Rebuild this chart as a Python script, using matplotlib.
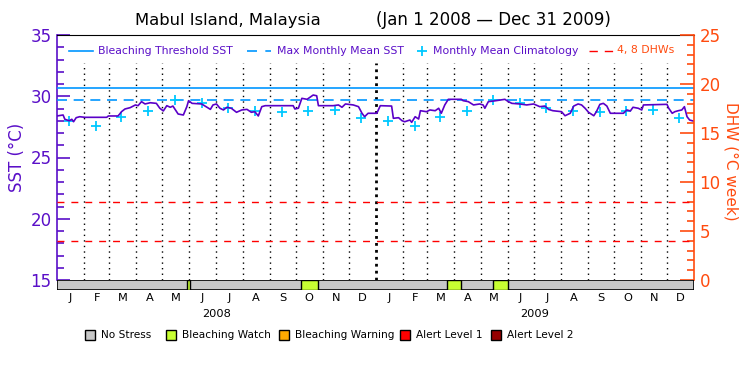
import numpy as np
import matplotlib
matplotlib.use('Agg')
import matplotlib.pyplot as plt
from matplotlib.patches import Rectangle
from matplotlib.lines import Line2D
import matplotlib.transforms as mtransforms

# ---------------- data ----------------
start_date = np.datetime64('2008-01-01')
end_date = np.datetime64('2010-01-01')

# SST (days since 2008-01-01, degC)
sst_day = [0, 7, 9, 14, 17, 19, 22, 26, 32, 57, 59, 70, 72, 74, 78, 84, 90, 93, 97, 101,
           107, 114, 118, 122, 126, 130, 133, 139, 145, 149, 151, 155, 166, 176, 179, 183,
           187, 191, 195, 200, 206, 212, 218, 223, 227, 231, 235, 239, 271, 273, 277, 281,
           287, 294, 298, 300, 317, 323, 327, 331, 340, 346, 350, 353, 357, 367, 371, 384,
           386, 392, 396, 399, 405, 407, 411, 415, 417, 424, 428, 434, 438, 441, 445, 449,
           464, 466, 472, 478, 485, 489, 491, 495, 501, 508, 514, 518, 522, 531, 539, 547,
           554, 560, 564, 569, 579, 583, 589, 593, 598, 602, 606, 610, 616, 619, 623, 627,
           631, 635, 650, 654, 658, 661, 667, 671, 673, 700, 702, 706, 709, 713, 717, 720,
           723, 726, 730]
sst_val = [28.39, 28.47, 28.12, 28.00, 28.12, 27.92, 28.25, 28.33, 28.28, 28.28, 28.39, 28.39,
           28.55, 28.74, 28.96, 29.07, 29.29, 29.23, 29.56, 29.37, 29.47, 29.42, 29.02, 28.80,
           29.23, 29.10, 29.20, 28.55, 28.47, 29.15, 29.64, 29.42, 29.37, 28.93, 29.29, 29.37,
           29.02, 28.88, 29.10, 29.02, 28.69, 28.88, 28.93, 28.69, 28.74, 28.39, 29.15, 29.23,
           29.23, 28.96, 29.02, 29.83, 29.75, 30.10, 30.04, 29.23, 29.23, 29.29, 29.10, 29.37,
           29.29, 29.15, 28.61, 28.33, 28.61, 28.61, 29.23, 29.20, 28.20, 28.25, 28.00, 27.92,
           28.06, 27.87, 28.33, 28.14, 28.82, 28.74, 28.88, 28.82, 29.02, 28.61, 29.29, 29.75,
           29.75, 29.64, 29.56, 29.29, 29.37, 29.29, 29.02, 29.56, 29.61, 29.69, 29.75, 29.56,
           29.42, 29.37, 29.29, 29.37, 29.15, 29.20, 28.93, 28.82, 28.74, 28.41, 28.61, 29.20,
           29.37, 29.29, 29.02, 28.69, 28.41, 28.74, 29.34, 29.42, 29.20, 28.61, 28.61, 28.88,
           28.80, 29.10, 29.02, 28.88, 29.29, 29.34, 29.02, 28.61, 28.74, 28.82, 28.88, 29.15,
           28.33, 28.06, 27.98]

# Monthly mean climatology (Jan..Dec)
clim_val = [28.00, 27.60, 28.33, 28.82, 29.69, 29.42, 29.04, 28.82, 28.68, 28.78, 28.85, 28.25]
mmm = 29.69
bleach_threshold = 30.69
dhw_levels = [4, 8]

stress_labels = ['No Stress', 'Bleaching Watch', 'Bleaching Warning', 'Alert Level 1', 'Alert Level 2']
stress_colors = ['#c8c8c8', '#c8ff32', '#ffaa00', '#ff0000', '#960000']
watch_start = ['2008-05-29', '2008-10-07', '2009-03-23', '2009-05-15']
watch_end = ['2008-06-02', '2008-10-27', '2009-04-09', '2009-06-01']

month_labels = ['J', 'F', 'M', 'A', 'M', 'J', 'J', 'A', 'S', 'O', 'N', 'D']
years = [2008, 2009]

# ---------------- styling ----------------
W, H = 750, 375
PURPLE = '#5a0fc8'
SSTC = '#5a00c8'
BLUE = '#0096ff'
CYAN = '#00c8ff'
RED = '#ff0000'
ORANGE = '#ff4b0f'
LEGFS = 7.8


def fx(px):
    return px / W


def fy(py):
    return 1 - py / H


def days(d):
    return float((np.datetime64(d) - start_date) / np.timedelta64(1, 'D'))


ndays = days(end_date)

fig = plt.figure(figsize=(7.5, 3.75), dpi=100)
fig.patch.set_facecolor('white')

L, R, T, B = 57, 694, 35, 280
ax = fig.add_axes([fx(L), fy(B), fx(R - L), (B - T) / H])
ax.set_xlim(0, ndays)
ax.set_ylim(15, 35)

# month boundaries
month_starts = np.arange(np.datetime64('2008-01'), np.datetime64('2010-02'), dtype='datetime64[M]')
ms_days = [days(m.astype('datetime64[D]')) for m in month_starts]
vfrac = (B - 63) / (B - T)
for i, d in enumerate(ms_days[1:-1]):
    if d == days('2009-01-01'):
        ax.axvline(d, ymin=0, ymax=vfrac, color='black', lw=2.0, ls=(0, (1, 1.5)), zorder=1)
    else:
        ax.axvline(d, ymin=0, ymax=vfrac, color='black', lw=1.0, ls=(0, (1, 3)), zorder=1)

# reference lines
ax.axhline(bleach_threshold, color=BLUE, lw=1.2, zorder=3)
ax.axhline(mmm, color=BLUE, lw=1.2, ls=(0, (6, 4)), zorder=3)

# climatology crosses at mid month
clim_x = []
clim_y = []
for y in years:
    for m in range(12):
        clim_x.append(days(np.datetime64(f'{y}-{m + 1:02d}-15')))
        clim_y.append(clim_val[m])
ax.plot(clim_x, clim_y, ls='none', marker='+', ms=7, mew=1.3, color=CYAN, zorder=4)

# SST
ax.plot(sst_day, sst_val, color=SSTC, lw=1.2, zorder=5)

ax.set_xticks([])
ax.spines['bottom'].set_visible(False)
ax.spines['top'].set_color('black')
ax.spines['left'].set_color(PURPLE)
ax.spines['left'].set_linewidth(1.2)
ax.spines['right'].set_visible(False)
ax.set_yticks([15, 20, 25, 30, 35])
ax.set_yticks(np.arange(15, 36, 1), minor=True)
ax.tick_params(axis='y', which='major', direction='in', length=9.5, width=1.2, color=PURPLE,
               labelcolor=PURPLE, labelsize=12, pad=4)
ax.tick_params(axis='y', which='minor', direction='in', length=5, width=1.2, color=PURPLE)

# DHW axis
ax2 = ax.twinx()
ax2.set_ylim(0, 25)
for lev in dhw_levels:
    ax2.axhline(lev, color=RED, lw=1.0, ls=(0, (5, 5)), zorder=2)
for s in ['left', 'top', 'bottom']:
    ax2.spines[s].set_visible(False)
ax2.spines['right'].set_color(ORANGE)
ax2.spines['right'].set_linewidth(1.2)
ax2.set_yticks([0, 5, 10, 15, 20, 25])
ax2.set_yticks(np.arange(0, 26, 1), minor=True)
ax2.tick_params(axis='y', which='major', direction='in', length=10, width=1.2, color=ORANGE,
                labelcolor=ORANGE, labelsize=12, pad=4)
ax2.tick_params(axis='y', which='minor', direction='in', length=5, width=1.2, color=ORANGE)
ax2.set_xlim(0, ndays)

# axis labels
fig.text(fx(17), fy(157), 'SST (°C)', rotation=90, ha='center', va='center', color=PURPLE, fontsize=12)
fig.text(fx(731), fy(161), 'DHW (°C week)', rotation=-90, ha='center', va='center', color=ORANGE, fontsize=11)

# title
fig.text(fx(135), fy(20), 'Mabul Island, Malaysia', ha='left', va='center', fontsize=11.8, color='black')
fig.text(fx(376), fy(20), '(Jan 1 2008 — Dec 31 2009)', ha='left', va='center', fontsize=12, color='black')

# in-plot legend
ly = fy(50.5)
fig.add_artist(Line2D([fx(69), fx(93)], [ly, ly], color=BLUE, lw=1.2))
fig.text(fx(98), ly, 'Bleaching Threshold SST', ha='left', va='center', fontsize=LEGFS, color=PURPLE)
fig.add_artist(Line2D([fx(247), fx(271)], [ly, ly], color=BLUE, lw=1.2, ls=(0, (6, 5))))
fig.text(fx(277), ly, 'Max Monthly Mean SST', ha='left', va='center', fontsize=LEGFS, color=PURPLE)
fig.add_artist(Line2D([fx(421.5)], [ly], marker='+', ms=7, mew=1.3, color=CYAN, ls='none'))
fig.text(fx(433), ly, 'Monthly Mean Climatology', ha='left', va='center', fontsize=LEGFS, color=PURPLE)
fig.add_artist(Line2D([fx(589), fx(613)], [ly, ly], color=RED, lw=1.0, ls=(0, (6, 5))))
fig.text(fx(617), ly, '4, 8 DHWs', ha='left', va='center', fontsize=LEGFS, color=ORANGE)

# stress bar
axb = fig.add_axes([fx(L), fy(290), fx(R - L), 10 / H])
axb.set_xlim(0, ndays)
axb.set_ylim(0, 1)
axb.add_patch(Rectangle((0, 0), ndays, 1, facecolor=stress_colors[0], edgecolor='black', lw=1.2))
for s, e in zip(watch_start, watch_end):
    axb.add_patch(Rectangle((days(s), 0), days(e) - days(s), 1, facecolor=stress_colors[1],
                            edgecolor='black', lw=1.0))
for s in axb.spines.values():
    s.set_visible(False)
axb.set_yticks([])
mid = [(ms_days[i] + ms_days[i + 1]) / 2 for i in range(24)]
axb.set_xticks(mid)
axb.set_xticklabels(month_labels * 2, fontsize=8.2)
axb.tick_params(axis='x', length=0, pad=2.5)
trans = mtransforms.blended_transform_factory(axb.transData, fig.transFigure)
for y in years:
    c = (days(f'{y}-01-01') + days(f'{y + 1}-01-01')) / 2
    axb.text(c, fy(314), str(y), transform=trans, ha='center', va='center', fontsize=8.2)

# bottom legend
box_x = [85, 166, 279, 400, 491]
for bx, lab, col in zip(box_x, stress_labels, stress_colors):
    fig.add_artist(Rectangle((fx(bx), fy(340)), 10 / W, 10 / H, transform=fig.transFigure,
                             facecolor=col, edgecolor='black', lw=1.0))
    fig.text(fx(bx + 16), fy(335), lab, ha='left', va='center', fontsize=7.6, color='black')

fig.savefig('out.png', dpi=100, facecolor='white')
